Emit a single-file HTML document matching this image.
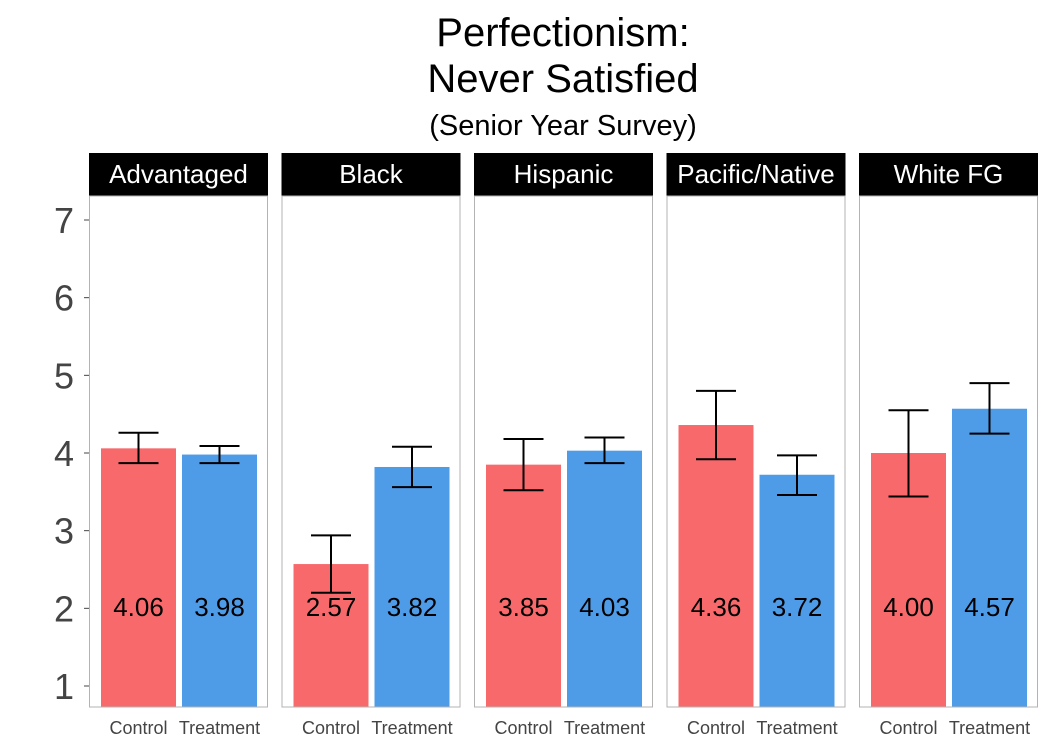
<!DOCTYPE html>
<html><head><meta charset="utf-8"><style>
body{margin:0;background:#fff;}
svg text{font-family:"Liberation Sans",Arial,sans-serif;}
</style></head><body>
<svg id="chart" width="1050" height="750" xmlns="http://www.w3.org/2000/svg">
<text x="563" y="46" font-size="40" text-anchor="middle" fill="#000">Perfectionism:</text>
<text x="563" y="92" font-size="40" text-anchor="middle" fill="#000">Never Satisfied</text>
<text x="563" y="135" font-size="29" text-anchor="middle" fill="#000">(Senior Year Survey)</text>
<g id="plot"></g>
</svg>
<script>
const groups=["Advantaged","Black","Hispanic","Pacific/Native","White FG"];
const conditions=["Control","Treatment"];
const controlMeans=[4.06,2.57,3.85,4.36,4.00];
const treatmentMeans=[3.98,3.82,4.03,3.72,4.57];
const controlLow=[3.87,2.20,3.52,3.92,3.44];
const controlHigh=[4.26,2.94,4.18,4.80,4.55];
const treatmentLow=[3.87,3.56,3.87,3.46,4.25];
const treatmentHigh=[4.09,4.08,4.20,3.97,4.90];
const yTicks=[1,2,3,4,5,6,7];
const colors=["#F8696B","#4E9BE8"];
const NS="http://www.w3.org/2000/svg";
const plotG=document.getElementById('plot');
const plotTop=196,plotBottom=707;
function y(v){return 686-(v-1)*(466/6);}
const panelX0=89,panelW=179,panelStep=192.5;
function mk(t,a){const e=document.createElementNS(NS,t);for(const k in a)e.setAttribute(k,a[k]);plotG.appendChild(e);return e;}
yTicks.forEach(t=>{
 const tl=mk('text',{x:74,y:y(t)+13,'font-size':36,'text-anchor':'end',fill:'#444'});
 tl.textContent=t;
 
 
 const tk=mk('line',{x1:84,x2:89,y1:y(t),y2:y(t),stroke:'#444','stroke-width':1});
 
 
});
groups.forEach((grp,i)=>{
 const px=panelX0+i*panelStep;
 const strip=mk('rect',{x:px,y:153,width:panelW,height:43,fill:'#000'});
 
 
 const st=mk('text',{x:px+panelW/2,y:183,'font-size':26,'text-anchor':'middle',fill:'#fff'});
 st.textContent=grp;
 
 
 const means=[controlMeans[i],treatmentMeans[i]];
 const lows=[controlLow[i],treatmentLow[i]];
 const highs=[controlHigh[i],treatmentHigh[i]];
 for(let j=0;j<2;j++){
  const bx=px+12+j*81, bw=75, cx=bx+bw/2;
  const by=y(means[j]);
  const bar=mk('rect',{x:bx,y:by,width:bw,height:plotBottom-by,fill:colors[j]});
  
  
  const eb=mk('path',{d:`M${cx-20},${y(highs[j])}H${cx+20}M${cx},${y(highs[j])}V${y(lows[j])}M${cx-20},${y(lows[j])}H${cx+20}`,stroke:'#000','stroke-width':2,fill:'none'});
  
  
  const vl=mk('text',{x:cx,y:616,'font-size':26,'text-anchor':'middle',fill:'#000'});
  vl.textContent=means[j].toFixed(2);
  
  
  const xl=mk('text',{x:cx,y:734,'font-size':18,'text-anchor':'middle',fill:'#444'});
  xl.textContent=conditions[j];
  
  
 }
 const border=mk('rect',{x:px+0.5,y:plotTop,width:panelW-1,height:plotBottom-plotTop,fill:'none',stroke:'#b3b3b3','stroke-width':1});
 
 
});
</script>
</body></html>
